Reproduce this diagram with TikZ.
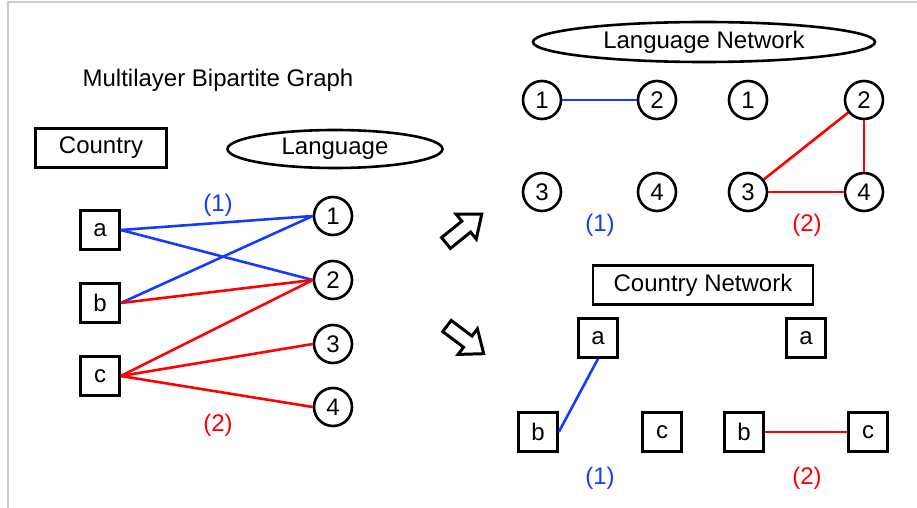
\documentclass[tikz,border=0pt]{standalone}
\usepackage{fontspec}
\setmainfont{Liberation Sans}
\usetikzlibrary{shapes.geometric}
\definecolor{layerblue}{RGB}{20,60,255}
\begin{document}
\begin{tikzpicture}[x=0.5pt,y=-0.5pt,
  every node/.style={font=\fontsize{12}{14}\selectfont},
  sq/.style={draw, line width=1.3pt, minimum size=19.5pt, inner sep=0pt},
  rnd/.style={draw, circle, line width=1.3pt, minimum size=19pt, inner sep=0pt},
  e1/.style={layerblue, line width=1.3pt},
  e2/.style={red, line width=1.3pt},
  fat/.style={draw, line width=1.5pt, line join=miter}]
\useasboundingbox (0,0) rectangle (917,508);
\draw[black!20, line width=0.6pt] (8,508) -- (8,2) -- (917,2);

% bipartite graph
\node (title) at (218,80) {Multilayer Bipartite Graph};
\node[draw, line width=1.3pt, minimum width=65.5pt, minimum height=19.5pt, inner sep=0pt] (country) at (101,148) {Country};
\node[draw, ellipse, line width=1.3pt, minimum width=107.5pt, minimum height=19pt, inner sep=0pt] (language) at (335,149) {Language};

\node[sq] (ca) at (100,230) {a};
\node[sq] (cb) at (100,303) {b};
\node[sq] (cc) at (100,376) {c};
\node[rnd] (l1) at (333,216) {1};
\node[rnd] (l2) at (333,280) {2};
\node[rnd] (l3) at (333,344) {3};
\node[rnd] (l4) at (333,407) {4};
\node[text=layerblue] (tag1) at (218,205) {(1)};
\node[text=red] (tag2) at (218,425) {(2)};

\draw[e1] (ca.east) -- (l1.west);
\draw[e1] (ca.east) -- (l2.west);
\draw[e1] (cb.east) -- (l1.west);
\draw[e2] (cb.east) -- (l2.west);
\draw[e2] (cc.east) -- (l2.west);
\draw[e2] (cc.east) -- (l3.west);
\draw[e2] (cc.east) -- (l4.west);

% projection arrows
\draw[fat, shift={(446,243)}, rotate=39] (0,-7) -- (26,-7) -- (26,-16) -- (46,0) -- (26,16) -- (26,7) -- (0,7) -- cycle;
\draw[fat, shift={(447,326)}, rotate=-37] (0,-7) -- (26,-7) -- (26,-16) -- (46,0) -- (26,16) -- (26,7) -- (0,7) -- cycle;

% language network
\node[draw, ellipse, line width=1.3pt, minimum width=171pt, minimum height=20pt, inner sep=0pt] (langnet) at (704,42) {Language Network};
\node[rnd] (n11) at (542,100) {1};
\node[rnd] (n12) at (657,100) {2};
\node[rnd] (n13) at (542,192) {3};
\node[rnd] (n14) at (657,192) {4};
\node[rnd] (n21) at (748,100) {1};
\node[rnd] (n22) at (864,100) {2};
\node[rnd] (n23) at (748,192) {3};
\node[rnd] (n24) at (864,192) {4};
\node[text=layerblue] (ltag1) at (600,225) {(1)};
\node[text=red] (ltag2) at (807,225) {(2)};

\draw[e1] (n11) -- (n12);
\draw[e2] (n22) -- (n23);
\draw[e2] (n22) -- (n24);
\draw[e2] (n23) -- (n24);

% country network
\node[draw, line width=1.3pt, minimum width=110pt, minimum height=19.5pt, inner sep=0pt] (ctrynet) at (703,285) {Country Network};
\node[sq] (a1) at (598,338) {a};
\node[sq] (b1) at (538,432) {b};
\node[sq] (c1) at (662,432) {c};
\node[sq] (a2) at (806,338) {a};
\node[sq] (b2) at (744,432) {b};
\node[sq] (c2) at (868,432) {c};
\node[text=layerblue] (ctag1) at (600,478) {(1)};
\node[text=red] (ctag2) at (807,478) {(2)};

\draw[e1] (a1.south) -- (b1.east);
\draw[e2] (b2) -- (c2);

\end{tikzpicture}
\end{document}
